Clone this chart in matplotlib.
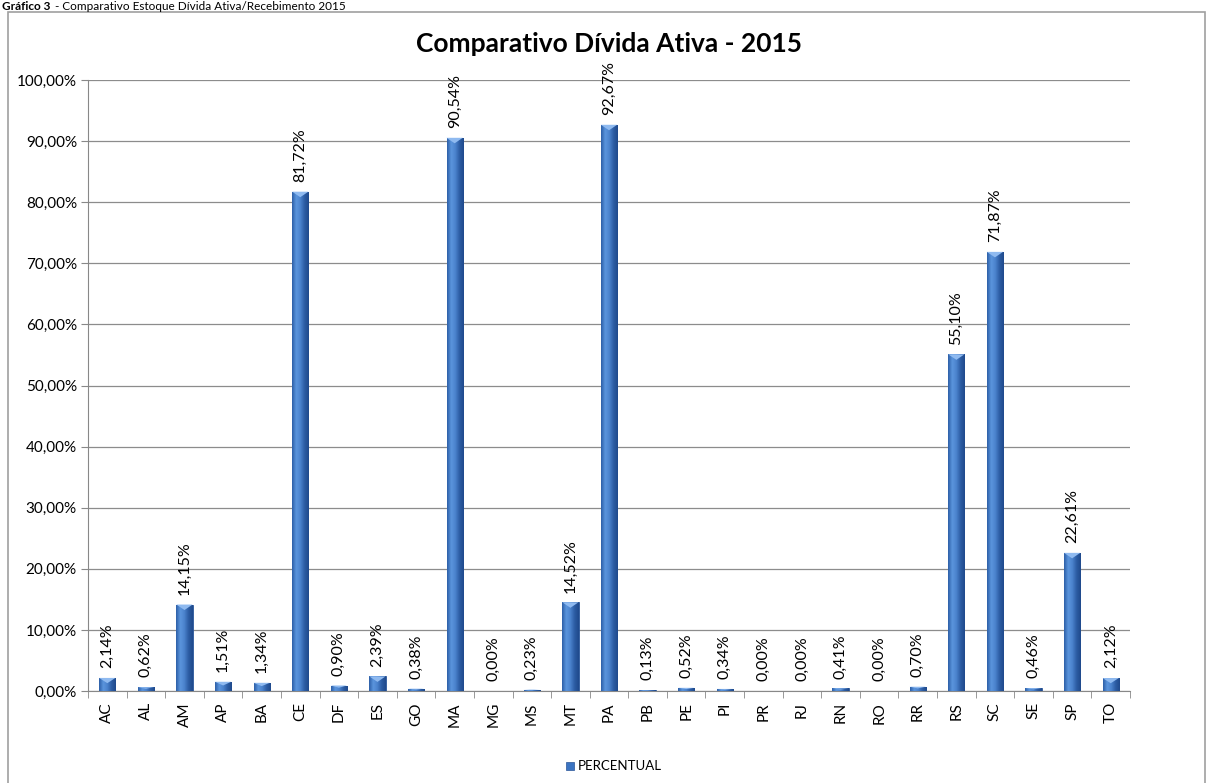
import numpy as np
import matplotlib
matplotlib.use("Agg")
import matplotlib.pyplot as plt
from matplotlib.colors import LinearSegmentedColormap
from matplotlib.patches import Rectangle

plt.rcParams['font.family'] = ['Lato', 'DejaVu Sans']

estados = ["AC", "AL", "AM", "AP", "BA", "CE", "DF", "ES", "GO", "MA", "MG", "MS", "MT", "PA",
           "PB", "PE", "PI", "PR", "RJ", "RN", "RO", "RR", "RS", "SC", "SE", "SP", "TO"]
percentual = [2.14, 0.62, 14.15, 1.51, 1.34, 81.72, 0.90, 2.39, 0.38, 90.54, 0.00, 0.23, 14.52, 92.67,
              0.13, 0.52, 0.34, 0.00, 0.00, 0.41, 0.00, 0.70, 55.10, 71.87, 0.46, 22.61, 2.12]
yticks = np.arange(0, 101, 10)


def pct(v):
    return f"{v:.2f}".replace(".", ",") + "%"


fig = plt.figure(figsize=(12.14, 7.83), dpi=100)

# moldura do gráfico
fig.patches.append(Rectangle((8 / 1214, -0.05), 1197 / 1214, 1.05 - 12 / 783, transform=fig.transFigure,
                             fill=False, edgecolor="#a0a0a0", linewidth=1.2))

fig.text(0.002, 0.999, "Gráfico 3", fontsize=8.5, fontweight="bold", va="top", ha="left")
fig.text(0.043, 0.999, " - Comparativo Estoque Dívida Ativa/Recebimento 2015", fontsize=8.5,
         va="top", ha="left")

ax = fig.add_axes([88 / 1214, 92 / 783, 1042 / 1214, 611 / 783])

x = np.arange(len(estados))
largura = 0.42
bars = ax.bar(x, percentual, width=largura, color="#3b74c2", edgecolor="#2a5598", linewidth=0.6, zorder=3)

# degradê horizontal nas barras
cmap = LinearSegmentedColormap.from_list("barra", ["#2d5fa8", "#5b95dd", "#4a82cc", "#2c5ca3", "#1f4a8c"])
grad = np.linspace(0, 1, 64).reshape(1, -1)
for b, v in zip(bars, percentual):
    x0 = b.get_x()
    ax.text(x0 + largura / 2, v + 1.6, pct(v), rotation=90, ha="center", va="bottom",
            fontsize=11.5, zorder=5)
    if v <= 0:
        continue
    im = ax.imshow(grad, cmap=cmap, aspect="auto", extent=(x0, x0 + largura, 0, v), zorder=3.5)
    im.set_clip_path(b)
    tampa = min(0.9, v * 0.4)
    ax.fill([x0, x0 + largura, x0 + largura / 2], [v, v, v - tampa], color="#8fbaf0", zorder=4, lw=0)

ax.set_xlim(-0.5, len(estados) - 0.5)
ax.set_ylim(0, 100)
ax.set_yticks(yticks)
ax.set_yticklabels([pct(v) for v in yticks], fontsize=11)
ax.set_xticks(x)
ax.set_xticklabels(estados, rotation=90, fontsize=11)
ax.set_xticks(np.arange(-0.5, len(estados)), minor=True)
ax.tick_params(axis="x", which="major", length=0, pad=8)
ax.tick_params(axis="x", which="minor", length=5, color="#888888")
ax.tick_params(axis="y", length=5, color="#888888", pad=3)

ax.yaxis.grid(True, color="#8c8c8c", linewidth=0.9, zorder=0)
for s in ["top", "right"]:
    ax.spines[s].set_visible(False)
for s in ["left", "bottom"]:
    ax.spines[s].set_color("#888888")

ax.set_title("Comparativo Dívida Ativa - 2015", fontsize=19, fontweight="bold", pad=20)

# legenda
fig.patches.append(Rectangle((566 / 1214, 13 / 783), 8 / 1214, 8 / 783,
                             transform=fig.transFigure, facecolor="#3b74c2", edgecolor="#2a5598", lw=0.5))
fig.text(578 / 1214, 17 / 783, "PERCENTUAL", fontsize=9.5, va="center", ha="left")

fig.savefig("out.png", dpi=100)
